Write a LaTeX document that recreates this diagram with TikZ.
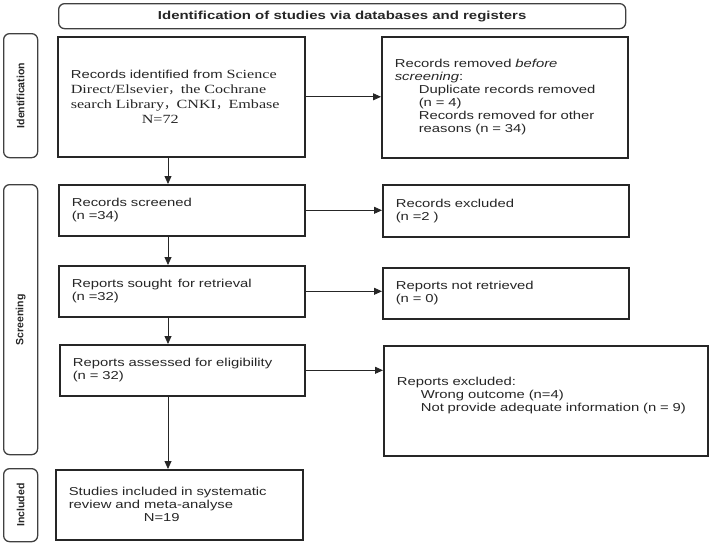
\documentclass[tikz,border=0pt]{standalone}
\usepackage{fontspec}
\setmainfont{Liberation Sans}[FakeStretch=1.29]
\newfontfamily\sidefont{Liberation Sans}
\newfontfamily\serifpart{Liberation Serif}[FakeStretch=1.29]
\newfontfamily\cjkpart{Noto Sans CJK SC}
\usetikzlibrary{arrows.meta,positioning}

\newcommand{\fwc}{{\cjkpart ，}}
\newcommand{\tms}{\serifpart\fontsize{12.5}{15}\selectfont}

\tikzset{
  flowbox/.style={draw=black!85, line width=1.6pt, anchor=north west, align=left,
    inner xsep=13pt, inner ysep=0pt, text=black!85, font=\fontsize{11.5}{13}\selectfont},
  phasebox/.style={draw=black!75, line width=1.3pt, rounded corners=6pt,
    anchor=north west, inner sep=0pt},
  phaselabel/.style={rotate=90, text=black!85, font=\sidefont\bfseries\fontsize{10.5}{12}\selectfont}
}

\begin{document}
\begin{tikzpicture}[x=1pt, y=-1pt, >={Stealth[length=8pt,width=7pt,inset=0pt]}]
\useasboundingbox (0,0) rectangle (709,544);

\node [phasebox, minimum width=567pt, minimum height=25pt, text=black!85,
  font=\bfseries\fontsize{11.6}{13}\selectfont] (banner) at (58,3)
  {Identification of studies via databases and registers};

\foreach \m/\l/\t/\h in {ident/Identification/33/124, screen/Screening/184/270, incl/Included/468/73}
{
  \node [phasebox, minimum width=34pt, minimum height=\h pt] (side-\m) at (3,\t) {};
  \node [phaselabel] (label-\m) at (side-\m) {\l};
}

% left column
\node [flowbox, text width=221pt, minimum height=120pt, font=\fontsize{11.5}{15}\selectfont] (records) at (57,36)
  {Records identified from {\tms Science}\\
   {\tms Direct/Elsevier\fwc the Cochrane}\\
   {\tms search Library\fwc CNKI\fwc Embase}\\
   \hspace*{71pt}{\tms N=72}};
\node [flowbox, text width=220pt, minimum height=51pt] (screened) at (58,184)
  {Records screened\\(n =34)};
\node [flowbox, text width=220pt, minimum height=51pt] (sought) at (58,265)
  {Reports sought\, for retrieval\\(n =32)};
\node [flowbox, text width=219pt, minimum height=51pt] (assessed) at (59,344)
  {Reports assessed for eligibility\\(n = 32)};
\node [flowbox, text width=221pt, minimum height=70pt] (studies) at (55,469)
  {Studies included in systematic\\review and meta-analyse\\\hspace*{75pt}N=19};

% right column
\node [flowbox, text width=220pt, minimum height=121pt] (removed) at (381,36)
  {Records removed \textit{before}\\\textit{screening}:\\
   \hspace*{24pt}Duplicate records removed\\
   \hspace*{24pt}(n = 4)\\
   \hspace*{24pt}Records removed for other\\
   \hspace*{24pt}reasons (n = 34)};
\node [flowbox, text width=220pt, minimum height=52pt] (excluded) at (382,184)
  {Records excluded\\(n =2 )};
\node [flowbox, text width=220pt, minimum height=51pt] (notretrieved) at (382,267)
  {Reports not retrieved\\(n = 0)};
\node [flowbox, text width=298pt, minimum height=110pt] (reportsexcl) at (383,345)
  {Reports excluded:\\
   \hspace*{24pt}Wrong outcome (n=4)\\
   \hspace*{24pt}Not provide adequate information (n = 9)\\\mbox{}};

\coordinate (spine) at (168,0);

\foreach \a/\b in {records/screened, screened/sought, sought/assessed, assessed/studies}
  \draw [->, line width=0.8pt, black!85] (\a.south -| spine) -- (\b.north -| spine);

\foreach \a/\b in {records/removed, screened/excluded, sought/notretrieved, assessed/reportsexcl}
  \draw [->, line width=0.8pt, black!85] (\a.east) -- (\a.east -| \b.west);

\end{tikzpicture}
\end{document}
